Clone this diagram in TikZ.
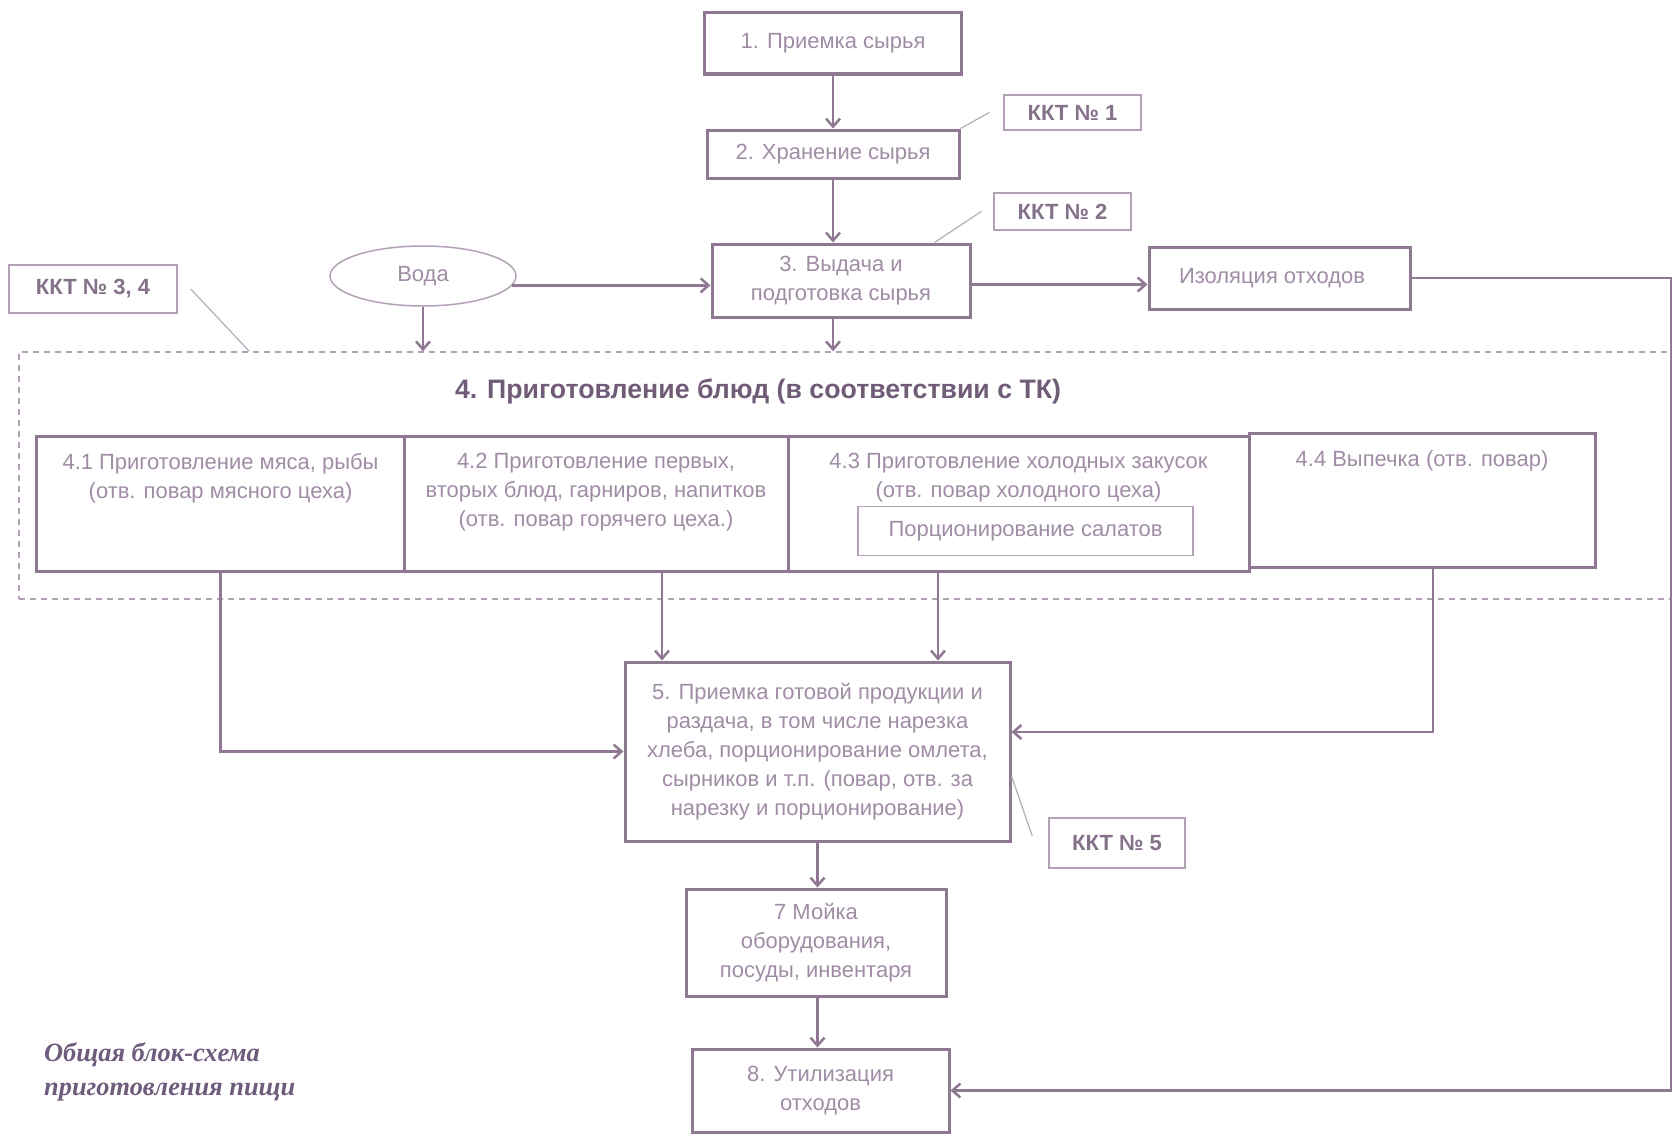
\documentclass[tikz,border=0pt]{standalone}
\usepackage{fontspec}
\setmainfont{Liberation Sans}
\newfontfamily\capfont{Liberation Serif}
\usetikzlibrary{arrows.meta, shapes.geometric}

\definecolor{ln}{HTML}{8F7892}
\definecolor{tx}{HTML}{A08DA5}
\definecolor{kk}{HTML}{85718A}
\definecolor{kb}{HTML}{B3A2B6}
\definecolor{hd}{HTML}{705C76}
\definecolor{ld}{HTML}{B8B0BA}
\definecolor{cp}{HTML}{6F5C7C}
\newcommand{\boxfont}{\fontsize{12.5}{16.4}\selectfont}

\begin{document}
\begin{tikzpicture}[x=0.2mm, y=-0.2mm,
    stage/.style={draw=ln, line width=0.6mm, fill=white, text=tx, font=\boxfont, align=center, inner sep=1mm},
    intext/.style={anchor=north, align=center, text=tx, font=\boxfont, inner sep=1mm},
    kkt/.style={draw=kb, line width=0.3mm, fill=white, text=kk, font=\boxfont\bfseries},
    grp/.style={draw=kb, line width=0.3mm, dash pattern=on 1.2mm off 1mm},
    arr/.style={draw=ln, line width=0.5mm, -{Straight Barb[length=1.6mm, width=2.8mm]}},
    lead/.style={draw=ld, line width=0.25mm}]
    \useasboundingbox[fill=white] (0,0) rectangle (1674,1136);

    % upper chain
    \node (b1) at (833, 43.5) [stage, minimum width=51.4mm, minimum height=12.2mm] {1. Приемка сырья};
    \node (b2) at (833, 154) [stage, minimum width=50.4mm, minimum height=9.6mm] {2. Хранение сырья};
    \node (b3) at (841, 280.5) [stage, minimum width=51.6mm, minimum height=14.6mm] {3. Выдача и\\подготовка сырья};
    \node (iz) at (1279.5, 278) [stage, minimum width=52.2mm, minimum height=12.4mm] {Изоляция отходов\hspace{3mm}};
    \node (voda) at (423, 276) [shape=ellipse, draw=kb, line width=0.3mm, text=tx, font=\boxfont, minimum width=37.2mm, minimum height=12mm] {Вода};

    \node (k1) at (1072.5, 112.5) [kkt, minimum width=27.4mm, minimum height=7mm] {ККТ № 1};
    \node (k2) at (1062.5, 211.5) [kkt, minimum width=27.4mm, minimum height=7.4mm] {ККТ № 2};
    \node (k34) at (93, 289) [kkt, minimum width=33.6mm, minimum height=9.6mm] {ККТ № 3, 4};

    % group 4
    \node (grp) at (845, 475.5) [grp, minimum width=330.4mm, minimum height=49.4mm] {};
    \node (h4) at (758, 391) [text=hd, font=\fontsize{15.2}{18}\selectfont\bfseries] {4. Приготовление блюд (в соответствии с ТК)};
    \node (p41) at (220.5, 503.5) [stage, minimum width=73.4mm, minimum height=27mm,
        label={[intext, label distance=-2.7mm]north:4.1 Приготовление мяса, рыбы\\(отв. повар мясного цеха)}] {};
    \node (p42) at (596, 503.5) [stage, minimum width=76.8mm, minimum height=27mm,
        label={[intext, label distance=-2.7mm]north:4.2 Приготовление первых,\\вторых блюд, гарниров, напитков\\(отв. повар горячего цеха.)}] {};
    \node (p43) at (1018.5, 503.5) [stage, minimum width=92.2mm, minimum height=27mm,
        label={[intext, label distance=-2.7mm]north:4.3 Приготовление холодных закусок\\(отв. повар холодного цеха)}] {};
    \node (p44) at (1422, 500) [stage, minimum width=69.2mm, minimum height=26.8mm,
        label={[intext, label distance=-2.7mm]north:4.4 Выпечка (отв. повар)}] {};
    \node (pors) at (1025.5, 531) [kkt, font=\boxfont, text=tx, minimum width=67mm, minimum height=9.8mm] {Порционирование салатов};

    % lower chain
    \node (b5) at (817.5, 751.5) [stage, minimum width=77mm, minimum height=35.8mm] {5. Приемка готовой продукции и\\раздача, в том числе нарезка\\хлеба, порционирование омлета,\\сырников и т.п. (повар, отв. за\\нарезку и порционирование)};
    \node (k5) at (1117, 843) [kkt, minimum width=27.2mm, minimum height=10mm] {ККТ № 5};
    \node (b7) at (816, 942.5) [stage, minimum width=52mm, minimum height=21.4mm] {7 Мойка\\оборудования,\\посуды, инвентаря};
    \node (b8) at (820.5, 1090.5) [stage, minimum width=51.4mm, minimum height=16.6mm] {8. Утилизация\\отходов};

    \node (cap) at (38, 1036) [anchor=north west, align=left, text=cp, font=\capfont\fontsize{15}{19.5}\selectfont\bfseries\itshape] {Общая блок-схема\\приготовления пищи};

    \coordinate (in2) at (662, 0);
    \coordinate (in3) at (938, 0);
    \coordinate (in4) at (1433, 0);
    \coordinate (rt) at (1671, 600);

    % connectors
    \draw[arr] (b1.south) -- (b2.north);
    \draw[arr] (b2.south) -- (b2.south |- b3.north);
    \draw[arr] (voda.-6) -- (voda.-6 -| b3.west);
    \draw[arr] ([yshift=-0.8mm]b3.east) -- ([yshift=-0.8mm]b3.east -| iz.west);
    \draw[arr] (voda.south) -- (voda.south |- grp.north);
    \draw[arr] (b3.south -| b2.south) -- (b2.south |- grp.north);
    \draw[arr] (p41.south) |- (b5.west);
    \draw[arr] (in2 |- p42.south) -- (in2 |- b5.north);
    \draw[arr] (in3 |- p43.south) -- (in3 |- b5.north);
    \draw[arr] (in4 |- p44.south) |- ([yshift=3.9mm]b5.east);
    \draw[arr] (b5.south) -- (b5.south |- b7.north);
    \draw[arr] (b7.south -| b5.south) -- (b5.south |- b8.north);
    \draw[arr] (iz.east) -| (rt) |- (b8.east);

    % leaders to control points
    \draw[lead] (b2.north east) -- ([xshift=-2.8mm]k1.west);
    \draw[lead] ([xshift=-7.4mm]b3.north east) -- ([xshift=-2.4mm]k2.west);
    \draw[lead] ([xshift=2.6mm]k34.east) -- ([xshift=46.2mm]grp.north west);
    \draw[lead] ([yshift=-4.9mm]b5.east) -- ([shift={(-3.2mm,1.4mm)}]k5.west);
\end{tikzpicture}
\end{document}
